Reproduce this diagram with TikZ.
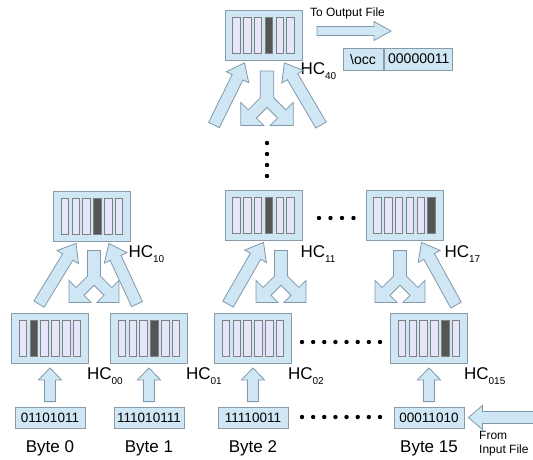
\documentclass[tikz,border=0pt]{standalone}
\usepackage{fontspec}
\setmainfont{Liberation Sans}
\usetikzlibrary{calc,positioning}

\definecolor{flowblue}{HTML}{CFE6F4}
\definecolor{flowline}{HTML}{8099AA}
\definecolor{boxline}{HTML}{8A9AA6}
\definecolor{slotfill}{HTML}{E6E6FA}
\definecolor{slotline}{HTML}{808080}
\definecolor{slotdark}{HTML}{555555}

% subscript of the HC labels
\newcommand{\hcsub}[1]{\raisebox{-5pt}{\fontsize{10}{10}\selectfont #1}}

% fat arrow: start, tip, shaft half width, head half width, head length
\newcommand{\fatarrow}[5]{%
    \coordinate (fa-s) at (#1);
    \coordinate (fa-e) at (#2);
    \coordinate (fa-h) at ($(fa-e)!#5!(fa-s)$);
    \filldraw[flow]
        ($(fa-s)!#3!90:(fa-e)$) -- ($(fa-h)!#3!-90:(fa-s)$) -- ($(fa-h)!#4!-90:(fa-s)$)
        -- (fa-e)
        -- ($(fa-h)!#4!90:(fa-s)$) -- ($(fa-h)!#3!90:(fa-s)$) -- ($(fa-s)!#3!-90:(fa-e)$)
        -- cycle;
}

\tikzset{
    hcbox/.style={
        rectangle,
        draw=boxline, fill=flowblue, line width=0.8pt,
        minimum width=77pt,
        minimum height=50pt,
        inner sep=0pt
    },
    slot/.style={
        rectangle,
        draw=slotline, line width=0.8pt,
        minimum width=7.5pt,
        minimum height=36pt,
        inner sep=0pt
    },
    bytebox/.style={
        rectangle,
        draw=boxline, fill=flowblue, line width=0.8pt,
        minimum width=70pt,
        minimum height=21pt,
        inner sep=1pt,
        font=\fontsize{13.5}{14}\selectfont
    },
    occbox/.style={bytebox, minimum height=22pt, font=\fontsize{14}{15}\selectfont},
    bytelabel/.style={inner sep=0pt, font=\fontsize{17}{20}\selectfont},
    hclabel/.style={anchor=north west, inner sep=0pt, font=\fontsize{17}{20}\selectfont},
    filenote/.style={inner sep=0pt, font=\fontsize{12}{14}\selectfont},
    flow/.style={draw=flowline, fill=flowblue, line width=0.8pt, line join=miter},
    pics/fork/.style={
        code={
            \filldraw[flow] (-6.5,0) -- (6.5,0) -- (6.5,25.7) -- (17.9,37.1) -- (25,30)
                -- (25,52) -- (3,52) -- (10.1,44.9) -- (0,34.8) -- (-10.1,44.9)
                -- (-3,52) -- (-25,52) -- (-25,30) -- (-17.9,37.1) -- (-6.5,25.7) -- cycle;
        }
    }
}

\begin{document}
\begin{tikzpicture}[x=1pt, y=-1pt]
    \useasboundingbox (0,0) rectangle (533,459);

    % -- histogram counters with their six slots -- %
    \foreach \nm/\cx/\cy/\dk in {hc40/263.5/35.5/3, hc10/92/216/3, hc11/263.5/215/3,
                                 hc17/404.5/215/5, hc00/50/338.5/1, hc01/149/338.5/3,
                                 hc02/253/338.5/9, hc015/429/338.5/4}{
        \node[hcbox] (\nm) at (\cx,\cy) {};
        \foreach \s in {0,...,5}{
            \ifnum\s=\dk\relax \def\slotcol{slotdark}\else \def\slotcol{slotfill}\fi
            \node[slot, fill=\slotcol] (\nm-s\s) at ($(\nm.center)+(\s*10.8-27,0)$) {};
        }
    }

    \node[hclabel] (l40) at ($(hc40.south east)+(-2,2)$) {HC\hcsub{40}};
    \node[hclabel] (l10) at ($(hc10.south east)+(-2.5,4)$) {HC\hcsub{10}};
    \node[hclabel] (l11) at ($(hc11.south east)+(-2,5)$) {HC\hcsub{11}};
    \node[hclabel] (l17) at ($(hc17.south east)+(1,5)$) {HC\hcsub{17}};
    \node[hclabel] (l00) at ($(hc00.south east)+(-2,4)$) {HC\hcsub{00}};
    \node[hclabel] (l01) at ($(hc01.south east)+(-2,4)$) {HC\hcsub{01}};
    \node[hclabel] (l02) at ($(hc02.south east)+(-4,4)$) {HC\hcsub{02}};
    \node[hclabel] (l015) at ($(hc015.south east)+(-4,4)$) {HC\hcsub{015}};

    % -- input bytes -- %
    \node[bytebox] (b0) at (50,417.5) {01101011};
    \node[bytebox] (b1) at (149,417.5) {111010111};
    \node[bytebox] (b2) at (253,417.5) {11110011};
    \node[bytebox] (b15) at (429,417.5) {00011010};

    \node[bytelabel, below=12pt of b0] (lb0) {Byte 0};
    \node[bytelabel, below=12pt of b1] (lb1) {Byte 1};
    \node[bytelabel, below=12pt of b2] (lb2) {Byte 2};
    \node[bytelabel, below=12pt of b15] (lb15) {Byte 15};

    % bytes feed the first level
    \fatarrow{$(b0.north)+(0,-5)$}{$(hc00.south)+(0,4)$}{5.5pt}{11.5pt}{12pt}
    \fatarrow{$(b1.north)+(0,-5)$}{$(hc01.south)+(0,4)$}{5.5pt}{11.5pt}{12pt}
    \fatarrow{$(b2.north)+(0,-5)$}{$(hc02.south)+(0,4)$}{5.5pt}{11.5pt}{12pt}
    \fatarrow{$(b15.north)+(0,-5)$}{$(hc015.south)+(0,4)$}{5.5pt}{11.5pt}{12pt}

    % merging up into the second level
    \fatarrow{$(hc00.north)+(-11,-9)$}{$(hc10.south west)+(23,2)$}{6pt}{12.5pt}{16pt}
    \fatarrow{$(hc01.north)+(-12,-9)$}{$(hc10.south east)+(-22,2)$}{6pt}{12.5pt}{16pt}
    \fatarrow{$(hc02.north)+(-25,-9)$}{$(hc11.south)+(0,2)$}{6pt}{12.5pt}{16pt}
    \fatarrow{$(hc015.north)+(27,-8)$}{$(hc17.south east)+(-22,2)$}{6pt}{12.5pt}{16pt}

    \pic at ($(hc10.south)+(2,9)$) {fork};
    \pic at ($(hc11.south)+(17.5,10)$) {fork};
    \pic at ($(hc17.south)+(-4.5,10)$) {fork};

    % top level
    \coordinate (tail40l) at (214,125);
    \coordinate (tail40r) at (321,125);
    \fatarrow{tail40l}{$(hc40.south west)+(20,2)$}{6pt}{12.5pt}{16pt}
    \fatarrow{tail40r}{$(hc40.south east)+(-18,2)$}{6pt}{12.5pt}{16pt}
    \pic[scale=1.05] at ($(hc40.south)+(3.5,10)$) {fork};

    % -- dots -- %
    \foreach \y in {143,154,165,176}
        \fill (267,\y) circle[radius=2.2pt];
    \foreach \x in {319,330.5,342,353.5}
        \fill (\x,218) circle[radius=2.2pt];
    \foreach \i in {0,...,7}{
        \fill (302+\i*11.14,342) circle[radius=2.2pt];
        \fill (302+\i*11.14,417) circle[radius=2.2pt];
    }

    % -- output -- %
    \node[filenote] (tooutput) at (347.5,13) {To Output File};
    \coordinate (outstart) at (317,31);
    \coordinate (outfile) at (391,31);
    \fatarrow{outstart}{outfile}{4.5pt}{9.5pt}{17pt}

    \node[occbox, minimum width=40pt] (occ) at (363,59) {\textbackslash occ};
    \node[occbox, minimum width=68pt, right=1pt of occ] (occval) {00000011};

    % -- input -- %
    \coordinate (infile) at (536,417.5);
    \fatarrow{infile}{$(b15.east)+(4,0)$}{6pt}{12pt}{14pt}
    \node[filenote, anchor=north west, align=left] (fromin) at (479,431) {From\\Input File};
\end{tikzpicture}
\end{document}
